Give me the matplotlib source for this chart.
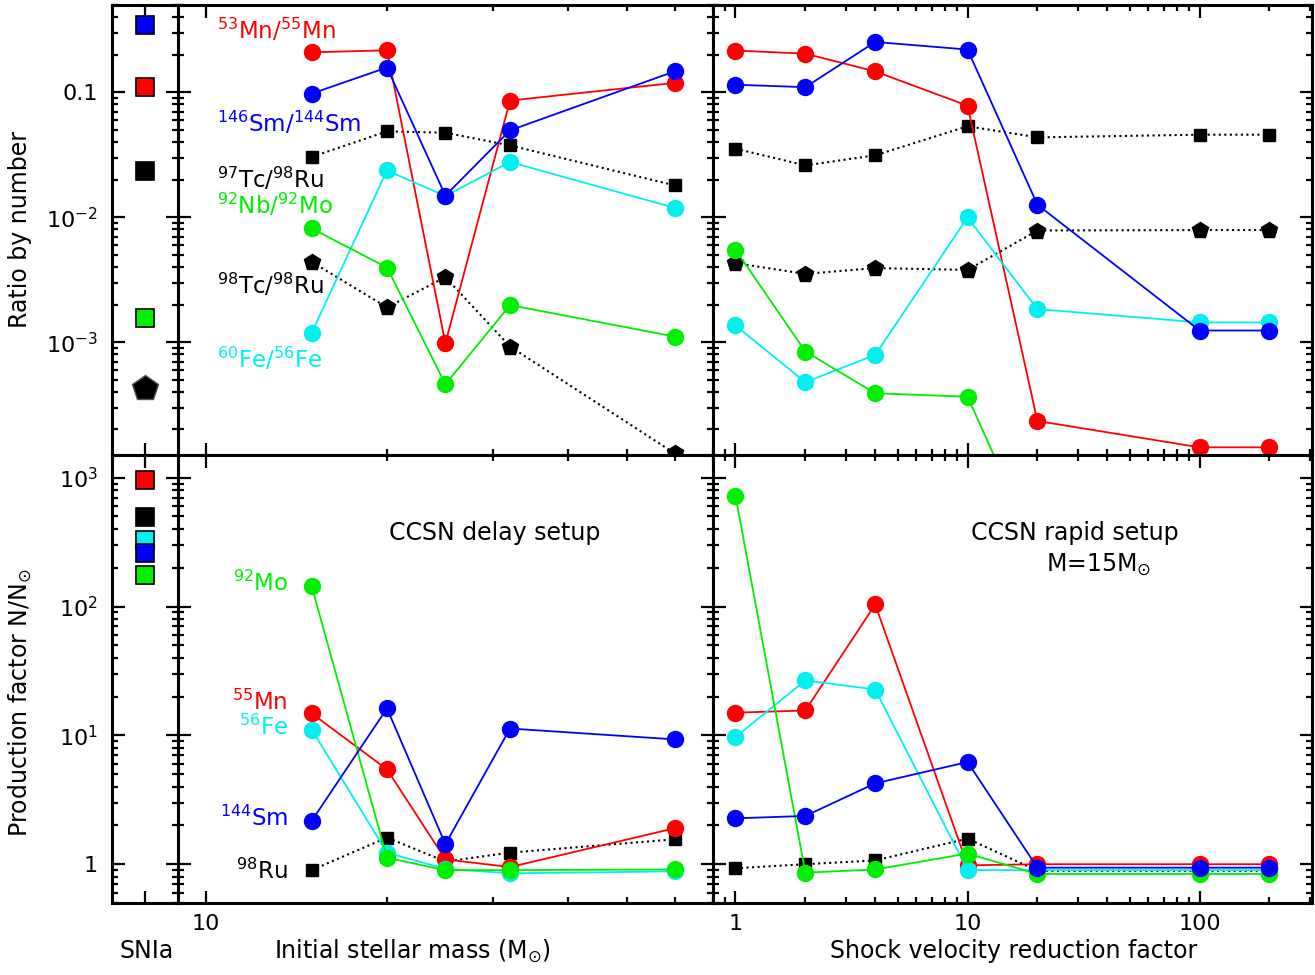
import matplotlib
matplotlib.use('Agg')
import matplotlib.pyplot as plt
from matplotlib.ticker import FixedLocator, FuncFormatter, LogLocator, NullFormatter

# x values
mass = [15, 20, 25, 32, 60]
shock = [1, 2, 4, 10, 20, 100, 200]

# top row: isotopic ratios (by number)
mn_ratio_delay = [0.209, 0.217, 9.8e-4, 0.0859, 0.119]
sm_ratio_delay = [0.0977, 0.158, 0.0149, 0.0496, 0.147]
tc97_ratio_delay = [0.0304, 0.0487, 0.0475, 0.0376, 0.018]
fe_ratio_delay = [1.19e-3, 0.0237, 0.0148, 0.0277, 0.0119]
nb_ratio_delay = [8.13e-3, 3.96e-3, 4.6e-4, 1.98e-3, 1.11e-3]
tc98_ratio_delay = [4.39e-3, 1.9e-3, 3.31e-3, 9.23e-4, 1.29e-4]

mn_ratio_rapid = [0.216, 0.204, 0.147, 0.0782, 2.34e-4, 1.44e-4, 1.44e-4]
sm_ratio_rapid = [0.115, 0.110, 0.253, 0.220, 0.0126, 1.24e-3, 1.24e-3]
tc97_ratio_rapid = [0.0354, 0.026, 0.0313, 0.0535, 0.0436, 0.0458, 0.0458]
tc98_ratio_rapid = [4.29e-3, 3.52e-3, 3.92e-3, 3.79e-3, 7.83e-3, 7.9e-3, 7.9e-3]
fe_ratio_rapid = [1.36e-3, 4.78e-4, 7.91e-4, 9.96e-3, 1.84e-3, 1.44e-3, 1.44e-3]
nb_ratio_rapid = [5.5e-3, 8.42e-4, 3.9e-4, 3.66e-4, 2.1e-5, 2e-5, 2e-5]

# SNIa ratios
snia_ratio = {'mn': 0.110, 'sm': 0.348, 'tc97': 0.0233, 'nb': 1.56e-3, 'tc98': 4.28e-4}

# bottom row: production factors
mo_pf_delay = [143.6, 1.12, 0.90, 0.90, 0.91]
mn_pf_delay = [14.8, 5.45, 1.09, 0.95, 1.90]
fe_pf_delay = [11.1, 1.23, 0.92, 0.85, 0.88]
sm_pf_delay = [2.17, 16.2, 1.43, 11.3, 9.31]
ru_pf_delay = [0.90, 1.61, 1.05, 1.23, 1.56]

mo_pf_rapid = [725, 0.86, 0.91, 1.21, 0.84, 0.84, 0.84]
mn_pf_rapid = [15.0, 15.6, 103.7, 0.98, 1.0, 1.0, 1.0]
fe_pf_rapid = [9.7, 26.7, 22.7, 0.90, 0.90, 0.90, 0.90]
sm_pf_rapid = [2.27, 2.37, 4.24, 6.21, 0.94, 0.94, 0.94]
ru_pf_rapid = [0.93, 1.0, 1.07, 1.58, 0.89, 0.89, 0.89]

snia_pf = {'mn': 953, 'ru': 495, 'fe': 330, 'sm': 260, 'mo': 177}

RED, BLUE, GREEN, CYAN = '#ff0000', '#0000ff', '#00ee00', '#00f0f0'

W, H = 1315, 975
fig = plt.figure(figsize=(W / 100, H / 100), dpi=100)


def box(x0, y0, x1, y1):
    return [x0 / W, 1 - y1 / H, (x1 - x0) / W, (y1 - y0) / H]


def fx(x, y):
    return x / W, 1 - y / H


cols = [(112, 178), (178, 713), (713, 1312)]
rows = [(5, 455), (455, 903)]
ylims = [(1.25e-4, 0.5), (0.5, 1500)]

axes = [[fig.add_axes(box(c[0], r[0], c[1], r[1])) for c in cols] for r in rows]


def ytick_fmt(v, pos):
    labels = {1e-1: '0.1', 1e-2: r'$10^{-2}$', 1e-3: r'$10^{-3}$', 1e-4: '',
              1: '1', 10: r'$10^1$', 100: r'$10^2$', 1000: r'$10^3$'}
    for k, s in labels.items():
        if abs(v - k) < 1e-3 * k:
            return s
    return ''


for i, row in enumerate(axes):
    for j, ax in enumerate(row):
        ax.set_yscale('log')
        ax.set_ylim(*ylims[i])
        if j == 0:
            ax.set_xlim(0, 2)
            ax.set_xticks([1])
        elif j == 1:
            ax.set_xscale('log')
            ax.set_xlim(9, 69.5)
            ax.xaxis.set_major_locator(FixedLocator([10]))
            ax.xaxis.set_minor_locator(FixedLocator([20, 30, 40, 50, 60]))
            ax.xaxis.set_minor_formatter(NullFormatter())
            ax.xaxis.set_major_formatter(FuncFormatter(lambda v, p: '10'))
        else:
            ax.set_xscale('log')
            ax.set_xlim(0.8, 305)
            ax.xaxis.set_major_locator(FixedLocator([1, 10, 100]))
            ax.xaxis.set_minor_locator(LogLocator(base=10, subs=range(2, 10)))
            ax.xaxis.set_minor_formatter(NullFormatter())
            ax.xaxis.set_major_formatter(FuncFormatter(lambda v, p: '%g' % v))
        ax.yaxis.set_major_locator(FixedLocator([1e-4, 1e-3, 1e-2, 1e-1, 1, 10, 100, 1000]))
        ax.yaxis.set_minor_locator(LogLocator(base=10, subs=range(2, 10), numticks=20))
        ax.yaxis.set_minor_formatter(NullFormatter())
        ax.yaxis.set_major_formatter(FuncFormatter(ytick_fmt))
        ax.tick_params(which='both', direction='in', top=True, right=True,
                       labelsize=16, width=1.6)
        ax.tick_params(which='major', length=9, pad=8)
        ax.tick_params(which='minor', length=4.5)
        ax.tick_params(axis='y', pad=10)
        if j > 0:
            ax.tick_params(axis='y', labelleft=False)
        if i == 0 or j == 0:
            ax.tick_params(axis='x', labelbottom=False)
        for s in ax.spines.values():
            s.set_linewidth(2.2)

circ = dict(marker='o', ms=11.5, lw=1.3)
sq = dict(marker='s', ms=9, lw=1.5, ls=':', color='k')
pent = dict(marker='p', ms=12, lw=1.5, ls=':', color='k')

# top row
ax = axes[0][1]
ax.plot(mass, tc97_ratio_delay, **sq)
ax.plot(mass, tc98_ratio_delay, **pent)
ax.plot(mass, mn_ratio_delay, color=RED, **circ)
ax.plot(mass, fe_ratio_delay, color=CYAN, **circ)
ax.plot(mass, nb_ratio_delay, color=GREEN, **circ)
ax.plot(mass, sm_ratio_delay, color=BLUE, **circ)

ax = axes[0][2]
ax.plot(shock, tc97_ratio_rapid, **sq)
ax.plot(shock, tc98_ratio_rapid, **pent)
ax.plot(shock, mn_ratio_rapid, color=RED, **circ)
ax.plot(shock, fe_ratio_rapid, color=CYAN, **circ)
ax.plot(shock, nb_ratio_rapid, color=GREEN, **circ)
ax.plot(shock, sm_ratio_rapid, color=BLUE, **circ)

ax = axes[0][0]
snia_sq = dict(marker='s', ms=13, mec='k', mew=1.2, ls='none')
ax.plot([1], [snia_ratio['sm']], color=BLUE, **snia_sq)
ax.plot([1], [snia_ratio['mn']], color=RED, **snia_sq)
ax.plot([1], [snia_ratio['tc97']], color='k', **snia_sq)
ax.plot([1], [snia_ratio['nb']], color=GREEN, **snia_sq)
ax.plot([1], [snia_ratio['tc98']], marker='p', ms=19, color='k', mec='#555555', ls='none')

# bottom row
ax = axes[1][1]
ax.plot(mass, ru_pf_delay, **sq)
ax.plot(mass, mn_pf_delay, color=RED, **circ)
ax.plot(mass, fe_pf_delay, color=CYAN, **circ)
ax.plot(mass, mo_pf_delay, color=GREEN, **circ)
ax.plot(mass, sm_pf_delay, color=BLUE, **circ)

ax = axes[1][2]
ax.plot(shock, ru_pf_rapid, **sq)
ax.plot(shock, mn_pf_rapid, color=RED, **circ)
ax.plot(shock, fe_pf_rapid, color=CYAN, **circ)
ax.plot(shock, mo_pf_rapid, color=GREEN, **circ)
ax.plot(shock, sm_pf_rapid, color=BLUE, **circ)

ax = axes[1][0]
ax.plot([1], [snia_pf['mn']], color=RED, **snia_sq)
ax.plot([1], [snia_pf['ru']], color='k', **snia_sq)
ax.plot([1], [snia_pf['fe']], color=CYAN, **snia_sq)
ax.plot([1], [snia_pf['sm']], color=BLUE, **snia_sq)
ax.plot([1], [snia_pf['mo']], color=GREEN, **snia_sq)

# labels
fs = 17
lfs = 16.5
top_labels = [(r'$^{53}$Mn/$^{55}$Mn', 30, RED),
              (r'$^{146}$Sm/$^{144}$Sm', 123, BLUE),
              (r'$^{97}$Tc/$^{98}$Ru', 179, 'k'),
              (r'$^{92}$Nb/$^{92}$Mo', 205, GREEN),
              (r'$^{98}$Tc/$^{98}$Ru', 285, 'k'),
              (r'$^{60}$Fe/$^{56}$Fe', 359, CYAN)]
for s, y, c in top_labels:
    fig.text(*fx(217, y), s, color=c, fontsize=lfs, ha='left', va='center')

bot_labels = [(r'$^{92}$Mo', 583, GREEN),
              (r'$^{55}$Mn', 702, RED),
              (r'$^{56}$Fe', 727, CYAN),
              (r'$^{144}$Sm', 818, BLUE),
              (r'$^{98}$Ru', 871, 'k')]
for s, y, c in bot_labels:
    fig.text(*fx(288, y), s, color=c, fontsize=lfs, ha='right', va='center')

fig.text(*fx(495, 533), 'CCSN delay setup', fontsize=fs, ha='center', va='center')
fig.text(*fx(1075, 533), 'CCSN rapid setup', fontsize=fs, ha='center', va='center')
fig.text(*fx(1099, 565), r'M=15M$_{\odot}$', fontsize=fs, ha='center', va='center')

fig.text(*fx(147, 951), 'SNIa', fontsize=fs, ha='center', va='center')
fig.text(*fx(412, 951), r'Initial stellar mass (M$_{\odot}$)', fontsize=fs, ha='center', va='center')
fig.text(*fx(1014, 951), 'Shock velocity reduction factor', fontsize=fs, ha='center', va='center')
fig.text(*fx(20, 230), 'Ratio by number', fontsize=fs, ha='center', va='center', rotation=90)
fig.text(*fx(20, 703), r'Production factor N/N$_{\odot}$', fontsize=fs, ha='center', va='center', rotation=90)

fig.savefig('out.png', dpi=100)
